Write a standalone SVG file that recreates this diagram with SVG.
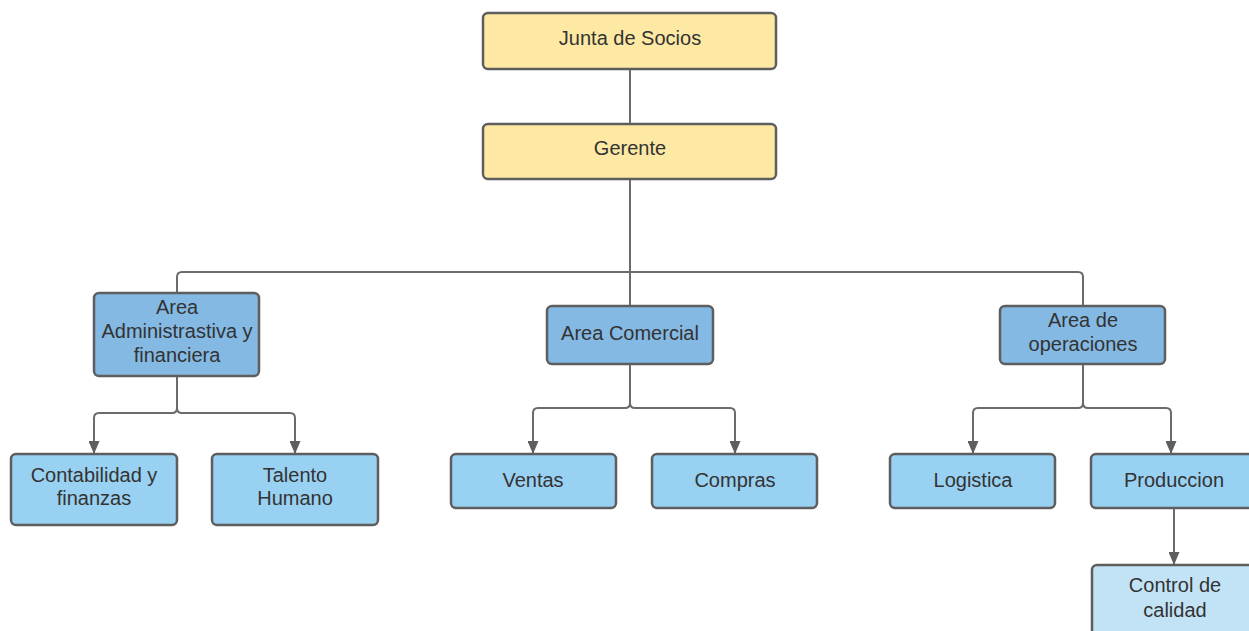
<svg xmlns="http://www.w3.org/2000/svg" width="1249" height="631" viewBox="0 0 1249 631">
<defs>
<style>
.box{stroke:#5e5e5e;stroke-width:2.5}
.y{fill:#fde9a3}
.a{fill:#83b9e3}
.b{fill:#99d1f2}
.c{fill:#c2e3f6}
text{font-family:"Liberation Sans",Arial,sans-serif;font-size:20px;fill:#333;text-anchor:middle}
.ln{fill:none;stroke:#6b6b6b;stroke-width:2}
</style>
<marker id="ar" viewBox="0 0 13 11" refX="12" refY="5.5" markerWidth="13" markerHeight="11" markerUnits="userSpaceOnUse" orient="auto">
<path d="M0,0 L13,5.5 L0,11 Z" fill="#5e5e5e"/>
</marker>
</defs>
<rect width="1249" height="631" fill="#fff"/>
<g id="connectors">
<path class="ln" d="M630,69 V124"/>
<path class="ln" d="M630,179 V306"/>
<path class="ln" d="M177,293 V277 Q177,272 182,272 H1078 Q1083,272 1083,277 V306"/>
<path class="ln" marker-end="url(#ar)" d="M177,376 V408 Q177,413 172,413 H99 Q94,413 94,418 V453"/>
<path class="ln" marker-end="url(#ar)" d="M177,408 Q177,413 182,413 H290 Q295,413 295,418 V453"/>
<path class="ln" marker-end="url(#ar)" d="M630,364 V403 Q630,408 625,408 H538 Q533,408 533,413 V453"/>
<path class="ln" marker-end="url(#ar)" d="M630,403 Q630,408 635,408 H730 Q735,408 735,413 V453"/>
<path class="ln" marker-end="url(#ar)" d="M1083,364 V403 Q1083,408 1078,408 H978 Q973,408 973,413 V453"/>
<path class="ln" marker-end="url(#ar)" d="M1083,403 Q1083,408 1088,408 H1166 Q1171,408 1171,413 V453"/>
<path class="ln" marker-end="url(#ar)" d="M1174,508 V564"/>
</g>
<g id="junta"><rect class="box y" x="483" y="13" width="293" height="56" rx="5"/><text x="630" y="45">Junta de Socios</text></g>
<g id="gerente"><rect class="box y" x="483" y="124" width="293" height="55" rx="5"/><text x="630" y="155">Gerente</text></g>
<g id="admin"><rect class="box a" x="94" y="293" width="165" height="83" rx="5"/><text x="177" y="314">Area</text><text x="177" y="338">Administrastiva y</text><text x="177" y="362">financiera</text></g>
<g id="comercial"><rect class="box a" x="547" y="306" width="166" height="58" rx="5"/><text x="630" y="340">Area Comercial</text></g>
<g id="operaciones"><rect class="box a" x="1000" y="306" width="165" height="58" rx="5"/><text x="1083" y="327">Area de</text><text x="1083" y="351">operaciones</text></g>
<g id="contabilidad"><rect class="box b" x="11" y="454" width="166" height="71" rx="5"/><text x="94" y="482">Contabilidad y</text><text x="94" y="505">finanzas</text></g>
<g id="talento"><rect class="box b" x="212" y="454" width="166" height="71" rx="5"/><text x="295" y="482">Talento</text><text x="295" y="505">Humano</text></g>
<g id="ventas"><rect class="box b" x="451" y="454" width="165" height="54" rx="5"/><text x="533" y="487">Ventas</text></g>
<g id="compras"><rect class="box b" x="652" y="454" width="165" height="54" rx="5"/><text x="735" y="487">Compras</text></g>
<g id="logistica"><rect class="box b" x="890" y="454" width="165" height="54" rx="5"/><text x="973" y="487">Logistica</text></g>
<g id="produccion"><rect class="box b" x="1091" y="454" width="166" height="54" rx="5"/><text x="1174" y="487">Produccion</text></g>
<g id="control"><rect class="box c" x="1092" y="565" width="166" height="80" rx="5"/><text x="1175" y="592">Control de</text><text x="1175" y="617">calidad</text></g>
</svg>
